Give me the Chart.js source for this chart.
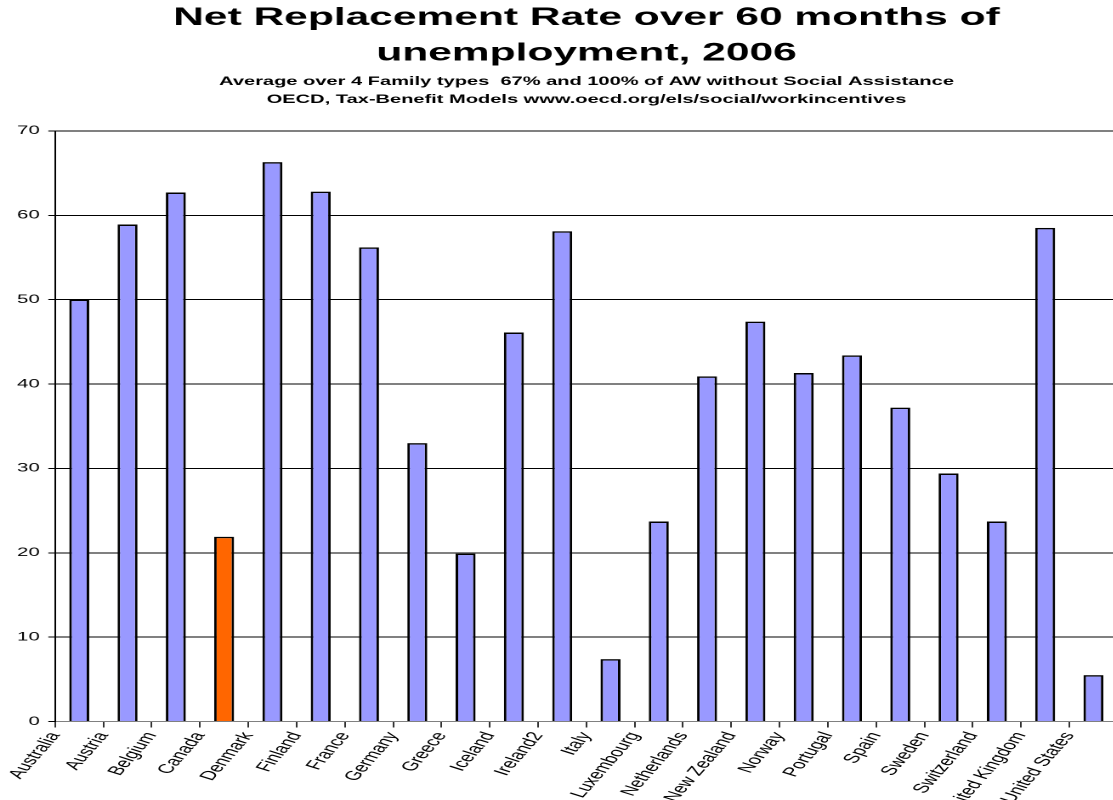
<!DOCTYPE html>
<html><head><meta charset="utf-8">
<script src="https://cdn.jsdelivr.net/npm/chart.js@4/dist/chart.umd.min.js"></script>
<style>
html,body{margin:0;padding:0;background:#fff;overflow:hidden;width:1113px;height:800px;}
#wrap{position:absolute;left:0;top:0;width:690px;height:800px;transform:scaleX(1.7);transform-origin:0 0;}
</style></head><body>
<div id="wrap"><canvas id="c" width="690" height="800"></canvas></div>
<script>
const categories = ['Australia','Austria','Belgium','Canada','Denmark','Finland','France','Germany','Greece','Iceland','Ireland2','Italy','Luxembourg','Netherlands','New Zealand','Norway','Portugal','Spain','Sweden','Switzerland','United Kingdom','United States'];
const rates = [50.0, 58.9, 62.7, 21.9, 66.3, 62.8, 56.2, 33.0, 19.9, 46.1, 58.1, 7.4, 23.7, 40.9, 47.4, 41.3, 43.4, 37.2, 29.4, 23.7, 58.5, 5.5];
const highlightCountry = 'Canada';
const yMin = 0, yMax = 70, yStep = 10;
const titleLines = ['Net Replacement Rate over 60 months of', 'unemployment, 2006'];
const subtitleLines = ['Average over 4 Family types  67% and 100% of AW without Social Assistance', 'OECD, Tax-Benefit Models www.oecd.org/els/social/workincentives'];

const FONT = 'Arial, "Liberation Sans", sans-serif';
const barColors = categories.map(c => c === highlightCountry ? '#FF6600' : '#9999FF');

new Chart(document.getElementById('c'), {
  type: 'bar',
  data: {
    labels: categories,
    datasets: [{
      data: rates,
      backgroundColor: barColors,
      borderColor: '#000000',
      borderWidth: 1.5,
      categoryPercentage: 1.0,
      barPercentage: 0.414
    }]
  },
  options: {
    responsive: false,
    animation: false,
    devicePixelRatio: 2,
    layout: { padding: { left: 0, right: 0, top: 0, bottom: 0 } },
    plugins: {
      legend: { display: false },
      tooltip: { enabled: false },
      title: {
        display: true, text: titleLines, color: '#000',
        font: { family: FONT, size: 25, weight: 'bold', lineHeight: 1.43 },
        padding: { top: 0, bottom: 1 }
      },
      subtitle: {
        display: true, text: subtitleLines, color: '#000',
        font: { family: FONT, size: 11.8, weight: 'bold', lineHeight: 1.5 },
        padding: { top: 0.5, bottom: 22.5 }
      }
    },
    scales: {
      x: {
        offset: true,
        grid: { display: true, drawOnChartArea: false, drawTicks: true, tickLength: 6, color: '#333', offset: true },
        border: { display: true, color: '#808080', width: 1 },
        ticks: { color: '#000', font: { family: FONT, size: 13 }, minRotation: 62, maxRotation: 62, autoSkip: false, labelOffset: -14.2, padding: 2 },
        afterFit: (s) => { s.height = 78.5; }
      },
      y: {
        min: yMin, max: yMax,
        grid: { color: '#000', lineWidth: 1, tickLength: 4, drawTicks: true },
        border: { display: true, color: '#000', width: 1 },
        ticks: { stepSize: yStep, color: '#000', font: { family: FONT, size: 12 }, padding: 5 },
        afterFit: (s) => { s.width = 32.4; }
      },
      yRight: {
        position: 'right', display: true,
        grid: { display: false }, border: { display: false },
        ticks: { display: false },
        afterFit: (s) => { s.width = 32.6; }
      }
    }
  }
});
</script>
</body></html>
